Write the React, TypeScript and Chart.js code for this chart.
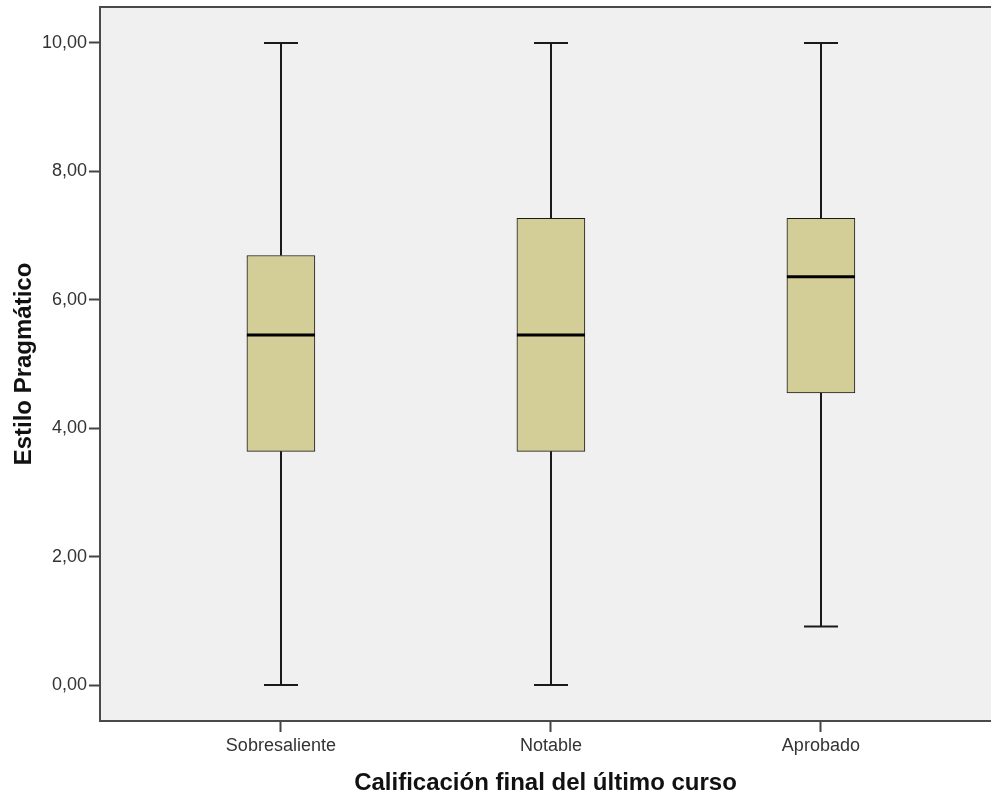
import React, { useEffect, useRef } from "react";
import { Chart, registerables } from "chart.js";

Chart.register(...registerables);

// Box-plot summary per grade group
const categories = ["Sobresaliente", "Notable", "Aprobado"];
const minimum = [0, 0, 0.91];
const q1 = [3.64, 3.64, 4.55];
const median = [5.45, 5.45, 6.36];
const q3 = [6.69, 7.27, 7.27];
const maximum = [10, 10, 10];
const yTicks = [0, 2, 4, 6, 8, 10];

const yTitle = "Estilo Pragmático";
const xTitle = "Calificación final del último curso";

const BOX_FILL = "#d3ce97";
const LINE = "#1a1a1a";
const FRAME = "#4a4a4a";
const PLOT_BG = "#f0f0f0";
const SANS = "'Liberation Sans', Arial, sans-serif";

const boxPlotPlugin = {
  id: "boxPlotParts",
  beforeDraw(chart: any) {
    const { ctx, chartArea: a } = chart;
    ctx.save();
    ctx.fillStyle = PLOT_BG;
    ctx.fillRect(a.left, a.top, a.right - a.left, a.bottom - a.top);
    ctx.restore();
  },
  beforeDatasetsDraw(chart: any) {
    const { ctx, scales } = chart;
    const xs = scales.x;
    const ys = scales.y;
    const bars = chart.getDatasetMeta(0).data;
    ctx.save();
    ctx.strokeStyle = LINE;
    ctx.lineWidth = 2;
    categories.forEach((_, i) => {
      const x = Math.round(xs.getPixelForValue(i + 1));
      const capHalf = (bars[i]?.width ?? 68) / 4;
      const yMin = ys.getPixelForValue(minimum[i]);
      const yMax = ys.getPixelForValue(maximum[i]);
      const yQ1 = ys.getPixelForValue(q1[i]);
      const yQ3 = ys.getPixelForValue(q3[i]);
      ctx.beginPath();
      ctx.moveTo(x, yQ3);
      ctx.lineTo(x, yMax);
      ctx.moveTo(x, yQ1);
      ctx.lineTo(x, yMin);
      ctx.moveTo(x - capHalf, yMax);
      ctx.lineTo(x + capHalf, yMax);
      ctx.moveTo(x - capHalf, yMin);
      ctx.lineTo(x + capHalf, yMin);
      ctx.stroke();
    });
    ctx.restore();
  },
  afterDatasetsDraw(chart: any) {
    const { ctx, scales } = chart;
    const ys = scales.y;
    const bars = chart.getDatasetMeta(0).data;
    ctx.save();
    ctx.strokeStyle = "#000";
    ctx.lineWidth = 3;
    categories.forEach((_, i) => {
      const bar = bars[i];
      if (!bar) return;
      const half = bar.width / 2;
      const y = ys.getPixelForValue(median[i]);
      ctx.beginPath();
      ctx.moveTo(bar.x - half, y);
      ctx.lineTo(bar.x + half, y);
      ctx.stroke();
    });
    ctx.restore();
  },
  afterDraw(chart: any) {
    const { ctx, chartArea: a } = chart;
    ctx.save();
    ctx.strokeStyle = FRAME;
    ctx.lineWidth = 2;
    ctx.beginPath();
    ctx.moveTo(a.left, a.top);
    ctx.lineTo(a.right + 2, a.top);
    ctx.stroke();
    ctx.restore();
  },
};

export default function App() {
  const canvasRef = useRef<HTMLCanvasElement | null>(null);

  useEffect(() => {
    const canvas = canvasRef.current;
    if (!canvas) return;
    const chart = new Chart(canvas, {
      type: "bar",
      data: {
        datasets: [
          {
            data: categories.map((_, i) => ({ x: i + 1, y: [q1[i], q3[i]] })) as any,
            backgroundColor: BOX_FILL,
            borderColor: LINE,
            borderWidth: 1,
            borderSkipped: false,
            barThickness: 68,
          },
        ],
      },
      options: {
        responsive: false,
        animation: false,
        devicePixelRatio: 1,
        layout: { padding: { left: 0, top: 7, right: -1, bottom: 0 } },
        plugins: {
          legend: { display: false },
          tooltip: { enabled: false },
        },
        scales: {
          x: {
            type: "linear",
            offset: false,
            min: 0.33,
            max: 3.63,
            afterBuildTicks: (scale: any) => {
              scale.ticks = categories.map((_, i) => ({ value: i + 1 }));
            },
            afterFit: (scale: any) => {
              scale.height = 77;
            },
            ticks: {
              autoSkip: false,
              maxRotation: 0,
              padding: 3,
              color: "#333",
              font: { family: SANS, size: 18 },
              callback: (v: any) => categories[Number(v) - 1] ?? "",
            },
            grid: {
              offset: false,
              drawOnChartArea: false,
              drawTicks: true,
              tickLength: 11,
              tickWidth: 2,
              tickColor: "#444",
            },
            border: { display: true, color: FRAME, width: 2 },
            title: {
              display: true,
              text: xTitle,
              color: "#111",
              font: { family: SANS, size: 24, weight: "bold" },
              padding: { top: 0, bottom: 0 },
            },
          },
          y: {
            type: "linear",
            min: -0.56,
            max: 10.56,
            afterBuildTicks: (scale: any) => {
              scale.ticks = yTicks.map((v) => ({ value: v }));
            },
            afterFit: (scale: any) => {
              scale.width = 100;
              scale.paddingTop = 0;
              scale.paddingBottom = 0;
            },
            ticks: {
              padding: 2,
              color: "#333",
              font: { family: SANS, size: 18 },
              callback: (v: any) => Number(v).toFixed(2).replace(".", ","),
            },
            grid: {
              drawOnChartArea: false,
              drawTicks: true,
              tickLength: 11,
              tickWidth: 2,
              tickColor: "#444",
            },
            border: { display: true, color: FRAME, width: 2 },
            title: {
              display: true,
              text: yTitle,
              color: "#111",
              font: { family: SANS, size: 24, weight: "bold" },
              padding: { top: 10, bottom: 0 },
            },
          },
        },
      },
      plugins: [boxPlotPlugin],
    });
    return () => chart.destroy();
  }, []);

  return (
    <div style={{ position: "absolute", left: 0, top: 0, width: 991, height: 798, background: "#fff" }}>
      <canvas ref={canvasRef} width={991} height={798} />
    </div>
  );
}
